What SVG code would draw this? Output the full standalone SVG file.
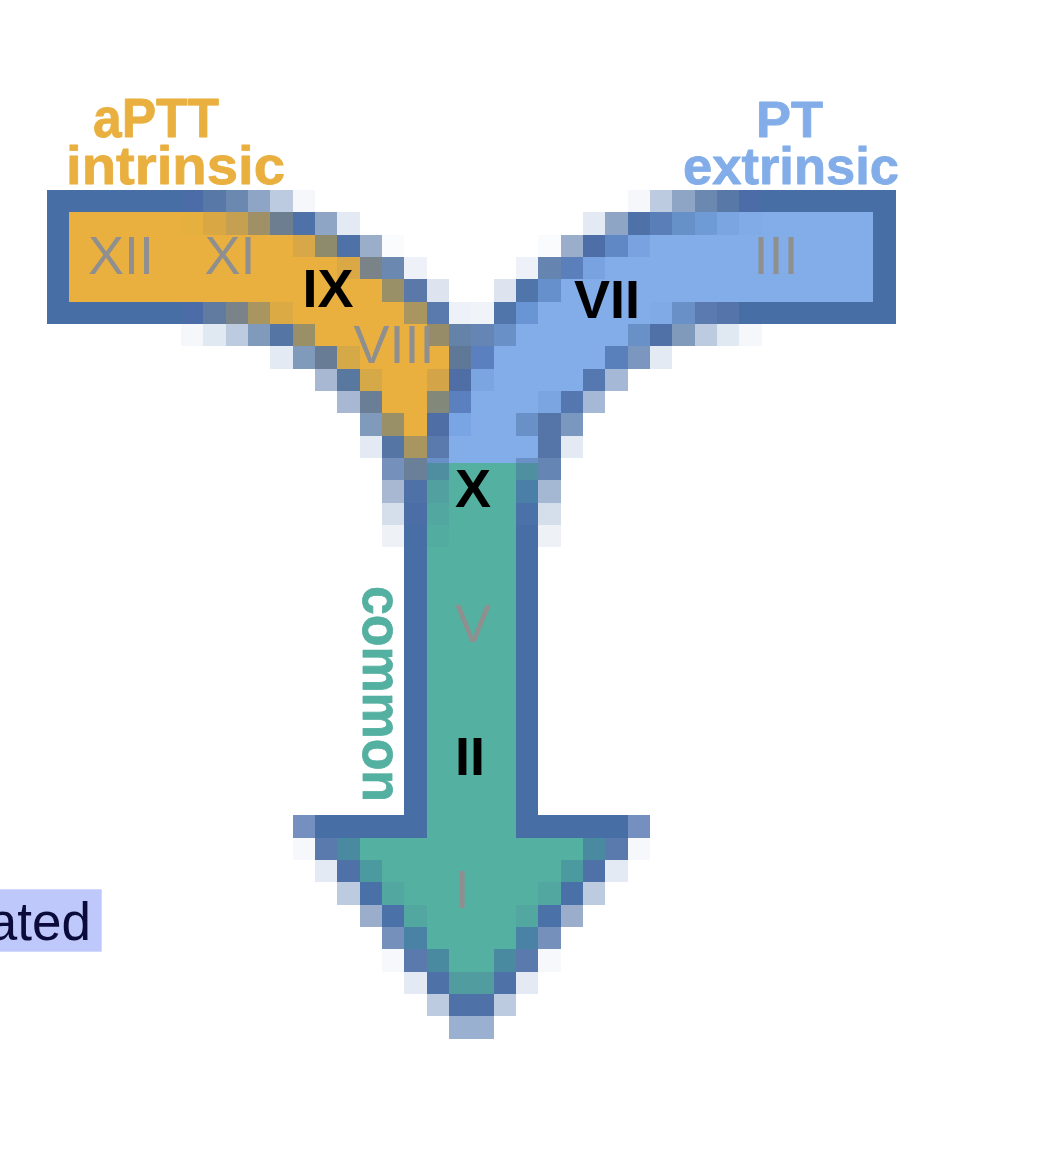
<svg xmlns="http://www.w3.org/2000/svg" width="1062" height="1156" viewBox="0 0 1062 1156">
<style>
.D{fill:#486ea6}.O{fill:#e9b040}.B{fill:#82ade8}.T{fill:#54b0a0}
.px rect{shape-rendering:crispEdges}
.num{font-family:"Liberation Sans",Arial,sans-serif;font-size:54px;text-anchor:middle;fill:#8f8f8f}
.key{font-family:"Liberation Sans",Arial,sans-serif;font-size:54px;font-weight:bold;text-anchor:middle;fill:#000}
.lab{font-family:"Liberation Sans",Arial,sans-serif;font-weight:bold;stroke-width:0.8px;stroke-linejoin:round}
</style>
<rect width="1062" height="1156" fill="#fff"/>
<g id="cascade-shape" class="px" transform="translate(2.333 11.333) scale(22.3333)">
<rect class="D" x="2" y="8" width="6" height="1"/>
<rect x="8" y="8" width="1" height="1" fill="#4b6ca6"/>
<rect x="9" y="8" width="1" height="1" fill="#5878a8"/>
<rect x="10" y="8" width="1" height="1" fill="#6a88b0"/>
<rect x="11" y="8" width="1" height="1" fill="#8ea5c5"/>
<rect x="12" y="8" width="1" height="1" fill="#bccbe0"/>
<rect x="13" y="8" width="1" height="1" fill="#f5f7fb"/>
<rect x="28" y="8" width="1" height="1" fill="#f5f7fb"/>
<rect x="29" y="8" width="1" height="1" fill="#bccbe0"/>
<rect x="30" y="8" width="1" height="1" fill="#8ea5c5"/>
<rect x="31" y="8" width="1" height="1" fill="#6a88b0"/>
<rect x="32" y="8" width="1" height="1" fill="#5878a8"/>
<rect x="33" y="8" width="1" height="1" fill="#4b6ca6"/>
<rect class="D" x="34" y="8" width="6" height="1"/>
<rect class="D" x="2" y="9" width="1" height="4"/>
<rect class="D" x="39" y="9" width="1" height="4"/>
<rect class="O" x="3" y="9" width="5" height="1"/>
<rect x="8" y="9" width="1" height="1" fill="#e6b03f"/>
<rect x="9" y="9" width="1" height="1" fill="#d9a845"/>
<rect x="10" y="9" width="1" height="1" fill="#c5a050"/>
<rect x="11" y="9" width="1" height="1" fill="#9f9065"/>
<rect x="12" y="9" width="1" height="1" fill="#6c7e90"/>
<rect x="13" y="9" width="1" height="1" fill="#4e72a8"/>
<rect x="14" y="9" width="1" height="1" fill="#8ea5c5"/>
<rect x="15" y="9" width="1" height="1" fill="#e3eaf4"/>
<rect x="26" y="9" width="1" height="1" fill="#e3eaf4"/>
<rect x="27" y="9" width="1" height="1" fill="#8ea5c5"/>
<rect x="28" y="9" width="1" height="1" fill="#4e72a8"/>
<rect x="29" y="9" width="1" height="1" fill="#5a7fb8"/>
<rect x="30" y="9" width="1" height="1" fill="#6690c8"/>
<rect x="31" y="9" width="1" height="1" fill="#6e9ad5"/>
<rect x="32" y="9" width="1" height="1" fill="#7aa5e0"/>
<rect x="33" y="9" width="1" height="1" fill="#80abe6"/>
<rect class="B" x="34" y="9" width="5" height="1"/>
<rect class="O" x="3" y="10" width="10" height="1"/>
<rect x="13" y="10" width="1" height="1" fill="#d8a848"/>
<rect x="14" y="10" width="1" height="1" fill="#8e8a6c"/>
<rect x="15" y="10" width="1" height="1" fill="#4e72a8"/>
<rect x="16" y="10" width="1" height="1" fill="#9aadc9"/>
<rect x="17" y="10" width="1" height="1" fill="#fafbfd"/>
<rect x="24" y="10" width="1" height="1" fill="#fafbfd"/>
<rect x="25" y="10" width="1" height="1" fill="#9aadca"/>
<rect x="26" y="10" width="1" height="1" fill="#4e6ea8"/>
<rect x="27" y="10" width="1" height="1" fill="#6088c5"/>
<rect x="28" y="10" width="1" height="1" fill="#78a3e0"/>
<rect class="B" x="29" y="10" width="10" height="1"/>
<rect class="O" x="3" y="11" width="12" height="1"/>
<rect x="15" y="11" width="1" height="1" fill="#daa845"/>
<rect x="16" y="11" width="1" height="1" fill="#7a8488"/>
<rect x="17" y="11" width="1" height="1" fill="#6a88b0"/>
<rect x="18" y="11" width="1" height="1" fill="#eef1f7"/>
<rect x="23" y="11" width="1" height="1" fill="#eef1f7"/>
<rect x="24" y="11" width="1" height="1" fill="#6585b0"/>
<rect x="25" y="11" width="1" height="1" fill="#5a7fbb"/>
<rect x="26" y="11" width="1" height="1" fill="#78a3e0"/>
<rect class="B" x="27" y="11" width="12" height="1"/>
<rect class="O" x="3" y="12" width="14" height="1"/>
<rect x="17" y="12" width="1" height="1" fill="#9a9068"/>
<rect x="18" y="12" width="1" height="1" fill="#5a78a8"/>
<rect x="19" y="12" width="1" height="1" fill="#dde4ef"/>
<rect x="22" y="12" width="1" height="1" fill="#dde4ef"/>
<rect x="23" y="12" width="1" height="1" fill="#5075aa"/>
<rect x="24" y="12" width="1" height="1" fill="#6590cc"/>
<rect class="B" x="25" y="12" width="14" height="1"/>
<rect class="D" x="2" y="13" width="6" height="1"/>
<rect x="8" y="13" width="1" height="1" fill="#4b6ca6"/>
<rect x="9" y="13" width="1" height="1" fill="#607aa0"/>
<rect x="10" y="13" width="1" height="1" fill="#7a8488"/>
<rect x="11" y="13" width="1" height="1" fill="#a89560"/>
<rect x="12" y="13" width="1" height="1" fill="#dcaa45"/>
<rect class="O" x="13" y="13" width="5" height="1"/>
<rect x="18" y="13" width="1" height="1" fill="#a89560"/>
<rect x="19" y="13" width="1" height="1" fill="#5a7aae"/>
<rect x="20" y="13" width="1" height="1" fill="#eef1f7"/>
<rect x="21" y="13" width="1" height="1" fill="#f0f3f8"/>
<rect x="22" y="13" width="1" height="1" fill="#5075aa"/>
<rect x="23" y="13" width="1" height="1" fill="#6a95d5"/>
<rect class="B" x="24" y="13" width="5" height="1"/>
<rect x="29" y="13" width="1" height="1" fill="#80aae5"/>
<rect x="30" y="13" width="1" height="1" fill="#6a90c8"/>
<rect x="31" y="13" width="1" height="1" fill="#5a7ab0"/>
<rect x="32" y="13" width="1" height="1" fill="#5575aa"/>
<rect class="D" x="33" y="13" width="7" height="1"/>
<rect x="8" y="14" width="1" height="1" fill="#f5f7fb"/>
<rect x="9" y="14" width="1" height="1" fill="#e0e8f2"/>
<rect x="10" y="14" width="1" height="1" fill="#bccbe0"/>
<rect x="11" y="14" width="1" height="1" fill="#7f9aba"/>
<rect x="12" y="14" width="1" height="1" fill="#5575a5"/>
<rect x="13" y="14" width="1" height="1" fill="#9a9068"/>
<rect class="O" x="14" y="14" width="5" height="1"/>
<rect x="19" y="14" width="1" height="1" fill="#968d68"/>
<rect x="20" y="14" width="1" height="1" fill="#6582a8"/>
<rect x="21" y="14" width="1" height="1" fill="#6585b5"/>
<rect x="22" y="14" width="1" height="1" fill="#6a90c8"/>
<rect class="B" x="23" y="14" width="5" height="1"/>
<rect x="28" y="14" width="1" height="1" fill="#6a90c8"/>
<rect x="29" y="14" width="1" height="1" fill="#5070a8"/>
<rect x="30" y="14" width="1" height="1" fill="#7f9aba"/>
<rect x="31" y="14" width="1" height="1" fill="#bccbe0"/>
<rect x="32" y="14" width="1" height="1" fill="#e0e8f2"/>
<rect x="33" y="14" width="1" height="1" fill="#f5f7fb"/>
<rect x="12" y="15" width="1" height="1" fill="#e3eaf4"/>
<rect x="13" y="15" width="1" height="1" fill="#7f9aba"/>
<rect x="14" y="15" width="1" height="1" fill="#687d95"/>
<rect x="15" y="15" width="1" height="1" fill="#d5a848"/>
<rect class="O" x="16" y="15" width="4" height="1"/>
<rect x="20" y="15" width="1" height="1" fill="#607898"/>
<rect x="21" y="15" width="1" height="1" fill="#5a80c0"/>
<rect class="B" x="22" y="15" width="5" height="1"/>
<rect x="27" y="15" width="1" height="1" fill="#5a80bb"/>
<rect x="28" y="15" width="1" height="1" fill="#7b97c0"/>
<rect x="29" y="15" width="1" height="1" fill="#e3eaf4"/>
<rect x="14" y="16" width="1" height="1" fill="#a8b8d3"/>
<rect x="15" y="16" width="1" height="1" fill="#5878a0"/>
<rect x="16" y="16" width="1" height="1" fill="#d5a848"/>
<rect class="O" x="17" y="16" width="2" height="1"/>
<rect x="19" y="16" width="1" height="1" fill="#d4a448"/>
<rect x="20" y="16" width="1" height="1" fill="#4e6ea5"/>
<rect x="21" y="16" width="1" height="1" fill="#7aa5e0"/>
<rect class="B" x="22" y="16" width="4" height="1"/>
<rect x="26" y="16" width="1" height="1" fill="#5578b0"/>
<rect x="27" y="16" width="1" height="1" fill="#a5b8d5"/>
<rect x="15" y="17" width="1" height="1" fill="#a8b8d3"/>
<rect x="16" y="17" width="1" height="1" fill="#6a7e95"/>
<rect class="O" x="17" y="17" width="2" height="1"/>
<rect x="19" y="17" width="1" height="1" fill="#82887a"/>
<rect x="20" y="17" width="1" height="1" fill="#5a80c0"/>
<rect class="B" x="21" y="17" width="3" height="1"/>
<rect x="24" y="17" width="1" height="1" fill="#7aa5e0"/>
<rect x="25" y="17" width="1" height="1" fill="#5577b0"/>
<rect x="26" y="17" width="1" height="1" fill="#a5b8d5"/>
<rect x="16" y="18" width="1" height="1" fill="#7f9aba"/>
<rect x="17" y="18" width="1" height="1" fill="#9a9068"/>
<rect class="O" x="18" y="18" width="1" height="1"/>
<rect x="19" y="18" width="1" height="1" fill="#4e6ea5"/>
<rect x="20" y="18" width="1" height="1" fill="#7aa5e5"/>
<rect class="B" x="21" y="18" width="2" height="1"/>
<rect x="23" y="18" width="1" height="1" fill="#6a90c8"/>
<rect x="24" y="18" width="1" height="1" fill="#5575a8"/>
<rect x="25" y="18" width="1" height="1" fill="#7a97c0"/>
<rect x="16" y="19" width="1" height="1" fill="#e3eaf4"/>
<rect x="17" y="19" width="1" height="1" fill="#5575a5"/>
<rect x="18" y="19" width="1" height="1" fill="#a89560"/>
<rect x="19" y="19" width="1" height="1" fill="#5a7aae"/>
<rect class="B" x="20" y="19" width="4" height="1"/>
<rect x="24" y="19" width="1" height="1" fill="#5575a8"/>
<rect x="25" y="19" width="1" height="1" fill="#e3eaf4"/>
<rect x="17" y="20" width="1" height="1" fill="#7590bb"/>
<rect x="18" y="20" width="1" height="1" fill="#6a8098"/>
<rect x="19" y="20" width="1" height="1" fill="#4e8ea0"/>
<rect class="T" x="20" y="20" width="3" height="1"/>
<rect x="23" y="20" width="1" height="1" fill="#4f90a0"/>
<rect x="24" y="20" width="1" height="1" fill="#6585b5"/>
<rect x="19" y="20" width="1" height="0.24" fill="#6a90c8"/>
<rect class="B" x="20" y="20" width="3" height="0.24"/>
<rect x="23" y="20" width="1" height="0.24" fill="#6a90c8"/>
<rect x="17" y="21" width="1" height="1" fill="#a8b8d3"/>
<rect x="18" y="21" width="1" height="1" fill="#4e72a8"/>
<rect x="19" y="21" width="1" height="1" fill="#52a0a0"/>
<rect class="T" x="20" y="21" width="3" height="1"/>
<rect x="23" y="21" width="1" height="1" fill="#4a80a8"/>
<rect x="24" y="21" width="1" height="1" fill="#a4b8d3"/>
<rect x="17" y="22" width="1" height="1" fill="#d5deeb"/>
<rect x="18" y="22" width="1" height="1" fill="#4a6ea5"/>
<rect x="19" y="22" width="1" height="1" fill="#52a8a0"/>
<rect class="T" x="20" y="22" width="3" height="1"/>
<rect x="23" y="22" width="1" height="1" fill="#4a72a8"/>
<rect x="24" y="22" width="1" height="1" fill="#d5deeb"/>
<rect x="17" y="23" width="1" height="1" fill="#eef2f7"/>
<rect class="D" x="18" y="23" width="1" height="1"/>
<rect x="19" y="23" width="1" height="1" fill="#53aca0"/>
<rect class="T" x="20" y="23" width="3" height="1"/>
<rect class="D" x="23" y="23" width="1" height="1"/>
<rect x="24" y="23" width="1" height="1" fill="#eef2f7"/>
<rect class="D" x="18" y="24" width="1" height="12"/>
<rect class="T" x="19" y="24" width="4" height="12"/>
<rect class="D" x="23" y="24" width="1" height="12"/>
<rect x="13" y="36" width="1" height="1" fill="#7590c0"/>
<rect class="D" x="14" y="36" width="5" height="1"/>
<rect class="T" x="19" y="36" width="4" height="1"/>
<rect class="D" x="23" y="36" width="5" height="1"/>
<rect x="28" y="36" width="1" height="1" fill="#7590c0"/>
<rect x="13" y="37" width="1" height="1" fill="#f7f8fc"/>
<rect x="14" y="37" width="1" height="1" fill="#5a7aae"/>
<rect x="15" y="37" width="1" height="1" fill="#4a8aa0"/>
<rect class="T" x="16" y="37" width="10" height="1"/>
<rect x="26" y="37" width="1" height="1" fill="#4a8aa0"/>
<rect x="27" y="37" width="1" height="1" fill="#5a7aae"/>
<rect x="28" y="37" width="1" height="1" fill="#f7f8fc"/>
<rect x="14" y="38" width="1" height="1" fill="#e3eaf4"/>
<rect x="15" y="38" width="1" height="1" fill="#4e72a8"/>
<rect x="16" y="38" width="1" height="1" fill="#4a9aa0"/>
<rect class="T" x="17" y="38" width="8" height="1"/>
<rect x="25" y="38" width="1" height="1" fill="#4a9aa0"/>
<rect x="26" y="38" width="1" height="1" fill="#4e72a8"/>
<rect x="27" y="38" width="1" height="1" fill="#e3eaf4"/>
<rect x="15" y="39" width="1" height="1" fill="#bccbe0"/>
<rect x="16" y="39" width="1" height="1" fill="#4a70a8"/>
<rect x="17" y="39" width="1" height="1" fill="#52a8a0"/>
<rect class="T" x="18" y="39" width="6" height="1"/>
<rect x="24" y="39" width="1" height="1" fill="#52a8a0"/>
<rect x="25" y="39" width="1" height="1" fill="#4a70a8"/>
<rect x="26" y="39" width="1" height="1" fill="#bccbe0"/>
<rect x="16" y="40" width="1" height="1" fill="#9aadca"/>
<rect x="17" y="40" width="1" height="1" fill="#4a72a8"/>
<rect x="18" y="40" width="1" height="1" fill="#52a8a0"/>
<rect class="T" x="19" y="40" width="4" height="1"/>
<rect x="23" y="40" width="1" height="1" fill="#52a8a0"/>
<rect x="24" y="40" width="1" height="1" fill="#4a72a8"/>
<rect x="25" y="40" width="1" height="1" fill="#9aadca"/>
<rect x="17" y="41" width="1" height="1" fill="#7590bb"/>
<rect x="18" y="41" width="1" height="1" fill="#4a82a5"/>
<rect class="T" x="19" y="41" width="4" height="1"/>
<rect x="23" y="41" width="1" height="1" fill="#4a82a5"/>
<rect x="24" y="41" width="1" height="1" fill="#7590bb"/>
<rect x="17" y="42" width="1" height="1" fill="#f7f8fc"/>
<rect x="18" y="42" width="1" height="1" fill="#5a7aae"/>
<rect x="19" y="42" width="1" height="1" fill="#4a8aa0"/>
<rect class="T" x="20" y="42" width="2" height="1"/>
<rect x="22" y="42" width="1" height="1" fill="#4a8aa0"/>
<rect x="23" y="42" width="1" height="1" fill="#5a7aae"/>
<rect x="24" y="42" width="1" height="1" fill="#f7f8fc"/>
<rect x="18" y="43" width="1" height="1" fill="#e3eaf4"/>
<rect x="19" y="43" width="1" height="1" fill="#4e72a8"/>
<rect x="20" y="43" width="2" height="1" fill="#509c9f"/>
<rect x="22" y="43" width="1" height="1" fill="#4e72a8"/>
<rect x="23" y="43" width="1" height="1" fill="#e3eaf4"/>
<rect x="19" y="44" width="1" height="1" fill="#bccbe0"/>
<rect x="20" y="44" width="2" height="1" fill="#4e72a8"/>
<rect x="22" y="44" width="1" height="1" fill="#bccbe0"/>
<rect x="20" y="45" width="2" height="1" fill="#9ab0d0"/>
</g>
<g id="factors">
<text class="num" x="121" y="274">XII</text>
<text class="num" x="230" y="274">XI</text>
<text class="key" x="328" y="307">IX</text>
<text class="num" x="394" y="363">VIII</text>
<text class="key" x="607" y="318">VII</text>
<text class="num" x="776" y="274">III</text>
<text class="key" x="473" y="507">X</text>
<text class="num" x="473" y="642">V</text>
<text class="key" x="470" y="775">II</text>
<text class="num" x="462" y="908">I</text>
</g>
<g id="labels">
<text class="lab" x="93" y="136.7" font-size="55" fill="#e9b040" stroke="#e9b040" textLength="126" lengthAdjust="spacingAndGlyphs">aPTT</text>
<text class="lab" x="66" y="184.3" font-size="53" fill="#e9b040" stroke="#e9b040" textLength="219" lengthAdjust="spacingAndGlyphs">intrinsic</text>
<text class="lab" x="756" y="136.7" font-size="50" fill="#82ade8" stroke="#82ade8" textLength="67" lengthAdjust="spacingAndGlyphs">PT</text>
<text class="lab" x="683" y="184.3" font-size="52" fill="#82ade8" stroke="#82ade8" textLength="216" lengthAdjust="spacingAndGlyphs">extrinsic</text>
<text class="lab" transform="translate(363.3 586) rotate(90)" x="0" y="0" font-size="55" fill="#54b0a0" stroke="#54b0a0" textLength="216" lengthAdjust="spacingAndGlyphs">common</text>
</g>
<g id="activated-tag">
<rect x="-5" y="889.3" width="106.7" height="62.4" fill="#bfc8fa"/>
<text x="91" y="940" font-family="'Liberation Sans',Arial,sans-serif" font-size="53" text-anchor="end" fill="#0b0b3b">ated</text>
</g>
</svg>
